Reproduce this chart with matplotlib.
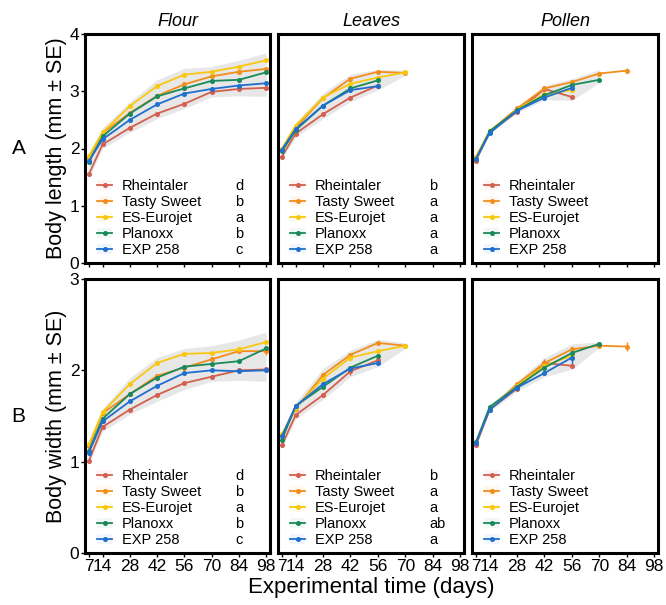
import matplotlib
matplotlib.use("Agg")
import matplotlib.pyplot as plt
from matplotlib.lines import Line2D
from matplotlib.patches import Patch

plt.rcParams['font.family'] = ['Liberation Sans', 'DejaVu Sans']

# sampling days and genotypes
days = [7, 14, 28, 42, 56, 70, 84, 98]
genotypes = ['Rheintaler', 'Tasty Sweet', 'ES-Eurojet', 'Planoxx', 'EXP 258']
colors = ['#d35f4f', '#f28e1c', '#f9c80e', '#1a8a5a', '#1f6fce']
diets = ['Flour', 'Leaves', 'Pollen']

# body length (mm), mean per sampling day
length_flour = {
    'Rheintaler': [1.55, 2.07, 2.36, 2.61, 2.78, 2.99, 3.04, 3.06],
    'Tasty Sweet': [1.84, 2.27, 2.62, 2.92, 3.12, 3.26, 3.34, 3.39],
    'ES-Eurojet': [1.87, 2.28, 2.74, 3.09, 3.29, 3.34, 3.43, 3.54],
    'Planoxx': [1.77, 2.21, 2.61, 2.91, 3.05, 3.18, 3.20, 3.33],
    'EXP 258': [1.78, 2.16, 2.50, 2.77, 2.96, 3.04, 3.10, 3.14],
}
length_leaves = {
    'Rheintaler': [1.86, 2.26, 2.60, 2.89, 3.10],
    'Tasty Sweet': [1.99, 2.36, 2.88, 3.22, 3.34, 3.32],
    'ES-Eurojet': [2.00, 2.40, 2.89, 3.13, 3.24, 3.33],
    'Planoxx': [1.95, 2.32, 2.75, 3.05, 3.19],
    'EXP 258': [1.98, 2.34, 2.75, 3.02, 3.09],
}
length_pollen = {
    'Rheintaler': [1.79, 2.29, 2.64, 3.04, 2.90],
    'Tasty Sweet': [1.85, 2.30, 2.70, 3.05, 3.16, 3.31, 3.36],
    'ES-Eurojet': [1.84, 2.30, 2.68, 2.95, 3.02],
    'Planoxx': [1.82, 2.30, 2.67, 2.93, 3.11, 3.20],
    'EXP 258': [1.81, 2.27, 2.66, 2.89, 3.06],
}

# body width (mm)
width_flour = {
    'Rheintaler': [1.01, 1.38, 1.57, 1.73, 1.86, 1.93, 2.00, 2.01],
    'Tasty Sweet': [1.17, 1.53, 1.74, 1.94, 2.03, 2.12, 2.21, 2.21],
    'ES-Eurojet': [1.19, 1.54, 1.85, 2.08, 2.18, 2.19, 2.23, 2.31],
    'Planoxx': [1.12, 1.47, 1.74, 1.92, 2.04, 2.07, 2.10, 2.24],
    'EXP 258': [1.10, 1.44, 1.66, 1.83, 1.97, 2.00, 1.99, 2.00],
}
width_leaves = {
    'Rheintaler': [1.18, 1.51, 1.73, 1.99, 2.11],
    'Tasty Sweet': [1.28, 1.58, 1.95, 2.17, 2.30, 2.27],
    'ES-Eurojet': [1.30, 1.59, 1.91, 2.14, 2.21, 2.27],
    'Planoxx': [1.24, 1.61, 1.82, 2.03, 2.16],
    'EXP 258': [1.28, 1.61, 1.85, 2.02, 2.08],
}
width_pollen = {
    'Rheintaler': [1.18, 1.57, 1.80, 2.08, 2.05],
    'Tasty Sweet': [1.21, 1.57, 1.85, 2.08, 2.23, 2.27, 2.26],
    'ES-Eurojet': [1.22, 1.58, 1.83, 2.05, 2.16],
    'Planoxx': [1.21, 1.60, 1.82, 2.03, 2.19, 2.29],
    'EXP 258': [1.20, 1.57, 1.81, 1.97, 2.14],
}

# grey band around the genotype curves (lower, upper)
band_length_flour = ([1.50, 2.00, 2.28, 2.52, 2.70, 2.90, 2.92, 2.91],
                     [1.92, 2.36, 2.82, 3.20, 3.40, 3.43, 3.54, 3.67])
band_length_leaves = ([1.82, 2.20, 2.52, 2.82, 3.02, 3.28],
                      [2.04, 2.45, 2.97, 3.30, 3.38, 3.37])
band_length_pollen = ([1.77, 2.26, 2.62, 2.85, 2.84, 3.15],
                      [1.87, 2.32, 2.72, 3.10, 3.22, 3.38])
band_width_flour = ([0.98, 1.33, 1.52, 1.66, 1.79, 1.88, 1.89, 1.88],
                    [1.22, 1.58, 1.92, 2.14, 2.24, 2.27, 2.33, 2.42])
band_width_leaves = ([1.15, 1.47, 1.68, 1.93, 2.04, 2.24],
                     [1.33, 1.65, 2.02, 2.22, 2.34, 2.30])
band_width_pollen = ([1.16, 1.55, 1.77, 1.93, 2.01, 2.25],
                     [1.24, 1.62, 1.88, 2.14, 2.29, 2.31])

# standard errors large enough to show
se_length = {('Pollen', 'Tasty Sweet', 84): 0.04, ('Pollen', 'Rheintaler', 42): 0.04,
             ('Leaves', 'Tasty Sweet', 70): 0.03, ('Leaves', 'Rheintaler', 56): 0.04}
se_width = {('Pollen', 'Tasty Sweet', 84): 0.05, ('Pollen', 'EXP 258', 56): 0.08,
            ('Pollen', 'Rheintaler', 42): 0.04, ('Leaves', 'Rheintaler', 42): 0.04,
            ('Leaves', 'EXP 258', 28): 0.04, ('Flour', 'Tasty Sweet', 98): 0.04}

# significance letters per diet
letters_length = {'Flour': ['d', 'b', 'a', 'b', 'c'], 'Leaves': ['b', 'a', 'a', 'a', 'a'], 'Pollen': None}
letters_width = {'Flour': ['d', 'b', 'a', 'b', 'c'], 'Leaves': ['b', 'a', 'a', 'ab', 'a'], 'Pollen': None}

rows = [
    dict(data=[length_flour, length_leaves, length_pollen],
         bands=[band_length_flour, band_length_leaves, band_length_pollen],
         se=se_length, letters=letters_length, ylim=4, ylabel='Body length (mm ± SE)', tag='A'),
    dict(data=[width_flour, width_leaves, width_pollen],
         bands=[band_width_flour, band_width_leaves, band_width_pollen],
         se=se_width, letters=letters_width, ylim=3, ylabel='Body width (mm ± SE)', tag='B'),
]

W, H = 666, 605
fig = plt.figure(figsize=(W / 100, H / 100), dpi=100)

col_px = [(85, 270), (278, 464), (472, 658)]
row_px = [(34, 263), (279, 553)]


def px_axes(x0, x1, y0, y1):
    return fig.add_axes([x0 / W, 1 - y1 / H, (x1 - x0) / W, (y1 - y0) / H])


for r, row in enumerate(rows):
    for c, diet in enumerate(diets):
        ax = px_axes(*col_px[c], *row_px[r])
        lo, hi = row['bands'][c]
        ax.fill_between(days[:len(lo)], lo, hi, color='#e2e2e2', alpha=0.8, lw=0, zorder=1)
        handles = []
        for g, col in zip(genotypes, colors):
            vals = row['data'][c][g]
            d = days[:len(vals)]
            err = [row['se'].get((diet, g, day), 0.0) for day in d]
            ax.errorbar(d, vals, yerr=err, color=col, lw=1.3, marker='o', ms=2.6,
                        elinewidth=1.0, capsize=0, zorder=3)
            handles.append((Patch(facecolor=col, alpha=0.06, lw=0),
                            Line2D([], [], color=col, lw=1.3, marker='o', ms=2.6)))

        ax.set_xlim(5, 100)
        ax.set_ylim(0, row['ylim'])
        ax.set_xticks(days)
        ax.set_yticks(range(0, row['ylim'] + 1))
        ax.tick_params(direction='out', length=3, width=1, labelsize=12.5, pad=1, color='black')
        for s in ax.spines.values():
            s.set_linewidth(2.2)
        if r == 0:
            ax.set_xticklabels([])
            ax.set_title(diet, style='italic', fontsize=13, pad=6)
        if c == 0:
            ax.set_ylabel(row['ylabel'], fontsize=15.5, labelpad=2)
            ax.text(-0.36, 0.5, row['tag'], transform=ax.transAxes, fontsize=15,
                    ha='center', va='center')
        else:
            ax.set_yticklabels([])
            ax.tick_params(axis='y', length=0)

        leg = ax.legend(handles, genotypes, loc='lower left', bbox_to_anchor=(0.035, 0.0),
                        frameon=False, fontsize=10.5, handlelength=1.0, handletextpad=0.7,
                        labelspacing=0.14, borderpad=0.2, borderaxespad=0.2)
        letters = row['letters'][diet]
        if letters:
            ax.add_artist(leg)
            blank = [Line2D([], [], lw=0) for _ in letters]
            ax.legend(blank, letters, loc='lower left', bbox_to_anchor=(0.78, 0.0),
                      frameon=False, fontsize=10.5, handlelength=0, handletextpad=0,
                      labelspacing=0.14, borderpad=0.2, borderaxespad=0.2)

fig.text((85 + 658) / 2 / W, 1 - 587 / H, 'Experimental time (days)',
         ha='center', va='center', fontsize=16)

fig.savefig('out.png', dpi=100)
